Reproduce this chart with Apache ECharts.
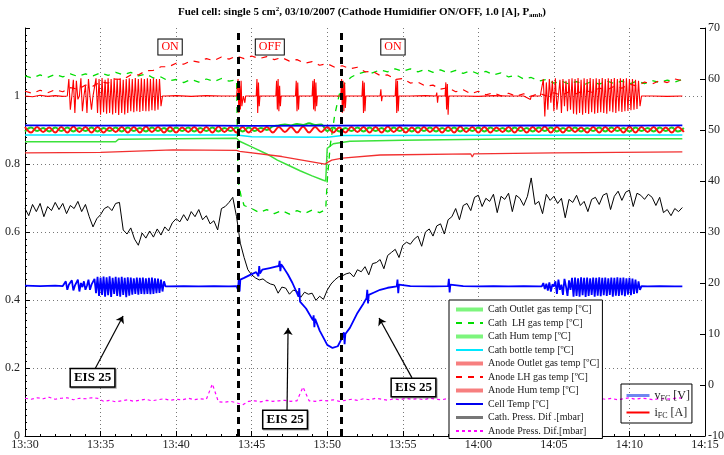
<!DOCTYPE html>
<html>
<head>
<meta charset="utf-8">
<script src="https://cdn.jsdelivr.net/npm/echarts@6/dist/echarts.min.js"></script>
<style>
  html, body { margin: 0; padding: 0; background: #fff; }
  #chart { width: 724px; height: 455px; }
</style>
</head>
<body>
<div id="chart"></div>
<script>
// ---- Time axis: minutes after 13:30 ----
const xTickLabels = ['13:30', '13:35', '13:40', '13:45', '13:50', '13:55', '14:00', '14:05', '14:10', '14:15'];
const leftTickLabels = ['0', '0.2', '0.4', '0.6', '0.8', '1', ''];
const rightTickLabels = ['-10', '0', '10', '20', '30', '40', '50', '60', '70'];

// Humidifier switch instants (min)
const switchTimes = [14.1, 20.9];

// ---- Temperatures [ºC] and pressures [mbar] (right axis) ----
const cathOutletTemp = [[0, 47.7], [6.0, 47.7], [6.2, 48.2], [10, 48.3], [14.0, 48.4], [14.2, 47.8], [15, 46.7], [16, 45.3],
  [16.7, 44.1], [17.5, 43.0], [18.2, 42.0], [19, 41.0], [19.7, 40.2], [19.9, 40.0], [20.0, 46.4], [20.4, 47.3], [21.5, 47.8],
  [25, 48.0], [33, 48.3], [43.5, 48.3]];

const cathLHTemp = [[0, 60.6], [0.5, 60.2], [1, 60.8], [1.5, 60.3], [2, 60.9], [2.5, 60.4], [3, 61.0], [3.5, 60.5], [4, 61.0],
  [4.5, 60.6], [5, 61.2], [5.5, 60.7], [6, 61.3], [6.5, 60.8], [7, 61.3], [7.5, 60.6], [8, 61.0], [8.5, 60.2], [9, 60.4],
  [9.5, 59.6], [10, 59.9], [10.5, 59.3], [11, 59.9], [11.5, 59.4], [12, 60.0], [12.5, 59.5], [13, 60.1], [13.5, 59.6],
  [14.0, 59.8], [14.1, 40.0], [14.3, 37.0], [14.5, 35.2], [15, 34.6], [15.5, 33.8], [16, 34.4], [16.5, 33.6], [17, 34.2],
  [17.5, 33.5], [18, 34.2], [18.5, 33.6], [19, 34.3], [19.5, 33.8], [19.9, 34.4], [20.0, 40.0], [20.2, 47.0], [20.5, 53.0],
  [20.8, 57.0], [21.2, 59.4], [21.6, 60.4], [22, 61.0], [22.5, 61.4], [23, 61.2], [23.5, 61.8], [24, 61.4], [24.5, 62.0],
  [25, 61.5], [25.5, 62.0], [26, 61.4], [26.5, 61.9], [27, 61.3], [27.5, 61.8], [28, 61.2], [28.5, 61.7], [29, 61.1],
  [29.5, 61.6], [30, 61.0], [30.5, 61.5], [31, 60.8], [31.5, 61.2], [32, 60.4], [32.5, 60.8], [33, 60.0], [33.5, 60.3],
  [34, 59.6], [34.5, 59.9], [35, 59.2], [35.5, 59.6], [36, 59.0], [36.5, 59.5], [37, 58.9], [37.5, 59.5], [38, 59.0],
  [38.5, 59.6], [39, 59.1], [39.5, 59.6], [40, 59.0], [40.5, 59.6], [41, 59.1], [41.5, 59.7], [42, 59.3], [42.5, 59.8],
  [43, 59.4], [43.5, 59.9]];

// humidifier temperatures are logged every 0.4 min
const humStep = 0.4;
const cathHumValues = [
  49.7, 50.5, 49.8, 50.4, 49.7, 50.5, 49.8, 50.5, 49.7, 50.4,
  49.8, 50.5, 49.7, 50.4, 49.8, 50.5, 49.7, 50.5, 49.8, 50.4,
  49.7, 50.5, 49.8, 50.4, 49.7, 50.5, 49.8, 50.5, 49.7, 50.4,
  49.8, 50.5, 49.7, 50.4, 49.8, 50.5, 49.7, 50.5, 49.8, 50.4,
  50.0, 50.7, 50.9, 51.1, 50.9, 51.2, 51.0, 51.3, 51.0, 51.1,
  49.8, 50.5, 49.7, 50.4, 49.8, 50.5, 49.7, 50.5, 49.8, 50.4,
  49.7, 50.5, 49.8, 50.4, 49.7, 50.5, 49.8, 50.5, 49.7, 50.4,
  49.8, 50.5, 49.7, 50.4, 49.8, 50.5, 49.7, 50.5, 49.8, 50.4,
  49.7, 50.5, 49.8, 50.4, 49.7, 50.5, 49.8, 50.5, 49.7, 50.4,
  49.8, 50.5, 49.7, 50.4, 49.8, 50.5, 49.7, 50.5, 49.8, 50.4,
  49.7, 50.5, 49.8, 50.4, 49.7, 50.5, 49.8, 50.5, 49.7, 50.4];
const anodeHumValues = [
  50.6, 49.5, 50.6, 49.6, 50.5, 49.5, 50.6, 49.5, 50.7, 49.6,
  50.6, 49.5, 50.6, 49.5, 50.5, 49.6, 50.6, 49.5, 50.6, 49.5,
  50.7, 49.6, 50.6, 49.5, 50.6, 49.5, 50.5, 49.6, 50.6, 49.5,
  50.6, 49.5, 50.7, 49.6, 50.6, 49.5, 50.6, 49.5, 50.5, 49.6,
  50.6, 49.5, 50.6, 49.6, 50.6, 49.5, 50.7, 49.5, 50.6, 49.6,
  50.6, 49.5, 50.5, 49.5, 50.6, 49.6, 50.6, 49.5, 50.6, 49.5,
  50.7, 49.6, 50.6, 49.5, 50.5, 49.5, 50.6, 49.6, 50.6, 49.5,
  50.6, 49.5, 50.7, 49.6, 50.6, 49.5, 50.6, 49.5, 50.5, 49.6,
  50.6, 49.5, 50.6, 49.5, 50.6, 49.6, 50.7, 49.5, 50.6, 49.5,
  50.6, 49.6, 50.5, 49.5, 50.6, 49.5, 50.6, 49.6, 50.6, 49.5,
  50.7, 49.5, 50.6, 49.6, 50.6, 49.5, 50.5, 49.5, 50.6, 49.6];

const cathBottleTemp = [[0, 49.0], [14.0, 49.0], [15, 48.7], [20, 48.6], [21, 48.9], [43.5, 49.0]];

const anodeOutletTemp = [[0, 45.5], [5, 45.6], [9.8, 46.1], [14.0, 46.0], [14.2, 45.8], [17, 44.8], [19.85, 43.3],
  [20.0, 43.6], [20.3, 44.1], [21, 44.5], [23.5, 45.1], [29.5, 45.3], [29.6, 44.7], [29.7, 45.3], [35, 45.5], [43.5, 45.7]];

const anodeLHTemp = [[0, 57.6], [0.5, 57.2], [1, 57.8], [1.5, 57.3], [2, 57.9], [2.5, 57.5], [3, 58.3], [3.5, 58.0],
  [4, 58.8], [4.5, 58.6], [5, 59.4], [5.5, 59.2], [6, 60.0], [6.5, 59.9], [7, 60.8], [7.5, 60.8], [8, 61.6], [8.5, 61.7],
  [9, 62.4], [9.5, 62.4], [10, 63.1], [10.5, 62.9], [11, 63.6], [11.5, 63.3], [12, 64.0], [12.5, 63.6], [13, 64.3],
  [13.5, 63.9], [14, 64.5], [14.5, 64.0], [15, 64.5], [15.5, 64.0], [16, 64.4], [16.5, 63.8], [17, 64.2], [17.5, 63.5],
  [18, 63.8], [18.5, 63.1], [19, 63.4], [19.5, 62.7], [20, 63.0], [20.5, 62.3], [21, 62.6], [21.5, 62.0], [22, 62.3],
  [22.5, 61.4], [23, 61.5], [23.5, 60.7], [24, 60.8], [24.5, 59.9], [25, 60.1], [25.5, 59.2], [26, 59.4], [26.5, 58.6],
  [27, 58.8], [27.5, 58.0], [28, 58.3], [28.5, 57.5], [29, 57.9], [29.5, 57.1], [30, 57.6], [30.5, 56.9], [31, 57.3],
  [31.5, 56.7], [32, 57.2], [32.5, 56.6], [33, 57.1], [33.5, 56.6], [34, 57.2], [34.5, 56.7], [35, 57.3], [35.5, 56.8],
  [36, 57.5], [36.5, 57.1], [37, 57.8], [37.5, 57.4], [38, 58.2], [38.5, 57.8], [39, 58.6], [39.5, 58.2], [40, 59.0],
  [40.5, 58.6], [41, 59.4], [41.5, 59.0], [42, 59.7], [42.5, 59.3], [43, 60.0], [43.5, 59.7]];

const cellTemp = [[0, 50.9], [5, 50.85], [10, 50.9], [15, 50.8], [20, 50.85], [25, 50.9], [30, 50.85], [35, 50.9],
  [40, 50.85], [43.5, 50.9]];

// cathode pressure difference, logged every 0.25 min
const cathPressStep = 0.25;
const cathPressValues = [
  34.6, 33.2, 35.4, 34.0, 35.6, 33.0, 35.0, 34.2, 35.8, 34.4, 35.6, 33.6, 35.2, 34.6, 36.0, 34.0,
  35.4, 33.0, 31.0, 32.6, 33.4, 34.6, 35.0, 34.2, 35.6, 35.8, 30.4, 29.6, 30.8, 28.6, 27.4, 29.8,
  28.8, 30.2, 29.0, 30.6, 29.4, 31.0, 30.2, 31.8, 32.6, 32.0, 33.4, 32.2, 34.0, 33.0, 34.4, 32.4,
  33.2, 31.6, 32.2, 30.4, 34.6, 35.0, 35.8, 36.8, 33.0, 27.8, 25.0, 22.6, 21.6, 21.0, 20.6, 20.8,
  20.2, 19.8, 19.6, 18.0, 19.2, 19.0, 17.8, 18.6, 18.4, 17.2, 18.2, 17.8, 18.0, 16.6, 17.4, 16.8,
  18.6, 19.8, 20.6, 21.2, 21.4, 21.8, 22.0, 21.2, 22.6, 22.2, 23.2, 21.6, 23.8, 24.0, 24.6, 22.8,
  25.4, 26.0, 26.6, 25.0, 27.4, 28.0, 27.6, 28.6, 29.2, 27.2, 30.0, 30.6, 29.2, 31.2, 31.6, 29.6,
  32.4, 33.0, 34.6, 32.4, 35.2, 35.6, 34.2, 36.8, 37.2, 35.0, 36.6, 36.0, 37.4, 33.8, 37.0, 36.4,
  37.6, 34.0, 37.2, 36.6, 35.2, 37.0, 40.6, 35.4, 36.0, 33.6, 37.4, 36.2, 37.0, 35.6, 36.6, 32.8,
  36.4, 35.8, 37.2, 35.2, 36.0, 34.0, 36.4, 36.8, 35.4, 37.2, 37.6, 34.4, 37.0, 38.0, 36.2, 37.8,
  38.2, 35.0, 37.6, 37.2, 36.4, 37.4, 36.8, 35.2, 36.8, 33.8, 34.4, 33.2, 34.6, 34.0, 34.8];

// anode pressure difference, logged every 0.4 min
const anodePressStep = 0.4;
const anodePressValues = [
  -2.6, -2.8, -2.5, -2.7, -2.4, -2.8, -2.6, -2.5, -2.9, -2.6, -2.7, -2.5, -2.6,
  -3.2, -3.0, -3.3, -3.1, -2.9, -3.2, -3.0, -2.8, -3.1, -2.9, -2.7, -3.0, -2.8, -2.9, -2.6, -2.9, -2.7, -2.8,
  0.2,
  -3.3, -3.4, -3.2, -3.5, -3.9, -3.2, -3.1, -3.3, -3.0, -3.2, -3.1, -3.0, -3.2, -3.1,
  -0.4,
  -3.1, -3.2, -3.0, -3.1, -2.9, -3.2, -3.0, -2.8, -3.0, -2.7, -2.9, -2.6, -2.8, -3.0, -2.7, -2.9,
  -2.6, -2.8, -2.7, -2.9, -2.6, -2.8, -2.9, -2.6, -2.8, -2.7, -2.5, -2.8, -2.6, -2.9, -2.7, -2.6,
  -2.8, -2.5, -2.7, -2.9, -2.6, -2.8, -2.7, -2.5, -2.8, -2.6, -2.9, -2.7, -2.6, -2.8, -2.5, -2.7,
  -2.6, -2.8, -2.6, -2.9, -2.7, -2.5, -2.8, -2.6, -2.7, -2.9, -2.6, -2.8, -2.7, -2.5, -2.7];

// ---- Cell voltage v_FC [V] (left axis) ----
const vfcSteady = [[0, 0.442], [1, 0.441], [2, 0.442], [2.5, 0.441],
  [9.5, 0.44], [10.5, 0.441], [11.5, 0.44], [12.5, 0.441], [13.5, 0.44], [14.0, 0.441], [14.1, 0.43], [14.15, 0.465],
  [14.2, 0.425], [14.25, 0.46], [14.5, 0.465], [14.9, 0.474], [15.3, 0.482], [15.45, 0.47], [15.5, 0.5], [15.55, 0.478],
  [15.7, 0.489], [16.2, 0.494], [16.6, 0.498], [16.8, 0.5], [16.85, 0.515], [16.9, 0.485], [16.95, 0.505], [17.1, 0.496],
  [17.4, 0.475], [17.7, 0.45], [18.0, 0.42], [18.1, 0.41], [18.15, 0.435], [18.2, 0.395], [18.3, 0.4], [18.6, 0.375],
  [19.06, 0.34], [19.1, 0.355], [19.15, 0.32], [19.2, 0.345], [19.5, 0.31], [19.8, 0.285], [20.0, 0.268], [20.35, 0.259],
  [20.7, 0.264], [21.0, 0.29], [21.1, 0.305], [21.15, 0.27], [21.2, 0.3], [21.5, 0.318], [22.0, 0.362], [22.4, 0.39],
  [22.6, 0.405], [22.65, 0.43], [22.7, 0.39], [22.75, 0.415], [23.1, 0.422], [23.5, 0.43], [24.0, 0.436], [24.6, 0.44],
  [24.65, 0.46], [24.7, 0.42], [24.75, 0.445], [25.5, 0.441], [27, 0.44], [28.0, 0.441], [28.05, 0.462], [28.1, 0.422],
  [28.15, 0.445], [29, 0.441], [30, 0.44], [31, 0.441], [32, 0.44], [33, 0.441], [34.0, 0.44],
  [41.2, 0.44], [42, 0.441], [43, 0.44], [43.5, 0.44]];
// EIS perturbation bursts, logged every 0.1 min
const vfcBurstStep = 0.1;
const vfcBurst1Start = 2.6;
const vfcBurst1 = [0.441, 0.455, 0.43, 0.445, 0.44, 0.458, 0.428, 0.442, 0.44, 0.46, 0.425, 0.45, 0.438, 0.455, 0.43,
  0.442, 0.46, 0.43, 0.445, 0.442, 0.462, 0.42, 0.468, 0.412, 0.466, 0.415, 0.469, 0.41, 0.467, 0.414, 0.47, 0.409,
  0.465, 0.418, 0.468, 0.412, 0.466, 0.41, 0.468, 0.415, 0.465, 0.408, 0.467, 0.413, 0.466, 0.416, 0.464, 0.418, 0.466,
  0.416, 0.465, 0.418, 0.466, 0.417, 0.464, 0.418, 0.465, 0.417, 0.466, 0.418, 0.464, 0.42, 0.463, 0.421, 0.46, 0.425,
  0.455, 0.44];
const vfcBurst2Start = 34.2;
const vfcBurst2 = [0.44, 0.45, 0.432, 0.448, 0.428, 0.452, 0.425, 0.446, 0.44, 0.455, 0.418, 0.46, 0.43, 0.445, 0.415,
  0.462, 0.44, 0.412, 0.458, 0.43, 0.465, 0.41, 0.466, 0.412, 0.464, 0.41, 0.467, 0.414, 0.465, 0.409, 0.466, 0.412,
  0.464, 0.415, 0.466, 0.41, 0.465, 0.413, 0.467, 0.411, 0.465, 0.414, 0.466, 0.412, 0.464, 0.415, 0.466, 0.41, 0.465,
  0.413, 0.467, 0.412, 0.465, 0.414, 0.466, 0.411, 0.464, 0.416, 0.465, 0.414, 0.463, 0.418, 0.46, 0.42, 0.455, 0.43,
  0.441];

// ---- Cell current i_FC [A] (left axis) ----
const ifcSteady = [[0, 1.0], [0.5, 0.998], [1, 1.002], [1.5, 0.999], [2, 1.001], [2.5, 0.999],
  [9.3, 1.0], [10, 1.001], [11, 0.999], [12, 1.001], [13, 1.0], [14.0, 1.0],
  [14.05, 1.0], [14.1, 1.05], [14.15, 0.95], [14.2, 1.03], [14.25, 0.96], [14.3, 1.045], [14.35, 0.97], [14.45, 1.0],
  [14.55, 0.98], [14.6, 1.0], [15.3, 1.0], [15.35, 1.05], [15.4, 0.95], [15.45, 1.04], [15.5, 0.97], [15.55, 1.0],
  [16.6, 1.0], [16.65, 1.045], [16.7, 0.96], [16.75, 1.05], [16.8, 0.955], [16.85, 1.03], [16.9, 0.97], [16.95, 1.0],
  [17.9, 1.0], [17.95, 1.045], [18.0, 0.955], [18.05, 1.04], [18.1, 0.96], [18.15, 1.0],
  [19.0, 1.0], [19.05, 1.045], [19.1, 0.96], [19.15, 1.05], [19.2, 0.955], [19.25, 1.04], [19.3, 0.97], [19.35, 1.0],
  [20.9, 1.0], [20.95, 1.05], [21.0, 0.95], [21.05, 1.045], [21.1, 0.955], [21.15, 1.04], [21.2, 0.965], [21.25, 1.0],
  [22.3, 1.0], [22.35, 1.045], [22.4, 0.95], [22.45, 1.04], [22.5, 0.955], [22.55, 1.0],
  [23.5, 1.0], [23.55, 1.02], [23.6, 0.985], [23.65, 1.0],
  [24.5, 1.0], [24.55, 1.05], [24.6, 0.95], [24.65, 1.045], [24.7, 0.955], [24.75, 1.0],
  [25.5, 1.0], [26.5, 1.001], [27.2, 1.0], [27.25, 1.01], [27.3, 0.98], [27.35, 1.0],
  [27.8, 1.0], [27.85, 1.04], [27.9, 0.96], [27.95, 1.035], [28.0, 0.945], [28.05, 1.0],
  [29, 1.0], [30, 0.999], [31, 1.001], [32, 1.0], [33, 1.0], [33.45, 0.99], [33.5, 1.0], [34.1, 1.0],
  [41.5, 1.0], [42.5, 0.999], [43.5, 1.0]];
const ifcBurstStep = 0.1;
const ifcBurst1Start = 2.8;
const ifcBurst1 = [1.0, 1.05, 0.96, 1.0, 1.048, 0.95, 1.045, 0.99, 1.0, 1.052, 0.955, 1.0, 1.03, 0.95, 1.05, 1.0, 0.96,
  1.0, 1.0, 1.052, 0.95, 1.05, 0.945, 1.053, 0.952, 1.048, 0.948, 1.052, 0.95, 1.05, 0.946, 1.053, 0.95, 1.05, 0.944,
  1.052, 0.95, 1.048, 0.946, 1.05, 0.95, 1.052, 0.955, 1.05, 0.952, 1.053, 0.955, 1.05, 0.953, 1.052, 0.956, 1.05,
  0.955, 1.052, 0.955, 1.05, 0.958, 1.052, 0.957, 1.05, 0.96, 1.05, 0.97, 1.0];
const ifcBurst2Start = 34.2;
const ifcBurst2 = [1.0, 1.05, 0.94, 1.04, 0.96, 1.05, 0.98, 1.045, 0.955, 1.052, 0.96, 1.0, 1.048, 0.95, 1.05, 0.97,
  1.045, 0.955, 1.05, 0.96, 1.052, 0.948, 1.05, 0.946, 1.053, 0.95, 1.048, 0.945, 1.052, 0.95, 1.05, 0.947, 1.053,
  0.952, 1.05, 0.948, 1.052, 0.95, 1.05, 0.952, 1.053, 0.95, 1.05, 0.948, 1.052, 0.955, 1.05, 0.952, 1.053, 0.95,
  1.05, 0.955, 1.052, 0.953, 1.05, 0.955, 1.052, 0.956, 1.05, 0.958, 1.05, 0.96, 1.048, 0.962, 1.045, 0.97, 1.0];

// ---- Annotations (time in min, left-axis value) ----
const stateLabels = [{ name: 'ON', t: 9.6, v: 1.144 }, { name: 'OFF', t: 16.2, v: 1.144 }, { name: 'ON', t: 24.35, v: 1.144 }];
const eisLabels = [{ name: 'EIS 25', t: 4.47, v: 0.171 }, { name: 'EIS 25', t: 17.21, v: 0.0485 }, { name: 'EIS 25', t: 25.71, v: 0.143 }];
const eisArrows = [[[4.63, 0.197], [6.49, 0.353]], [[17.34, 0.0765], [17.41, 0.318]], [[25.61, 0.171], [23.43, 0.347]]];

// ---- helpers ----
const FONT = '"Liberation Serif", "Times New Roman", serif';
function sampled(start, step, values) {
  return values.map((v, i) => [+(start + i * step).toFixed(3), v]);
}
function merged() {
  return [].concat(...arguments).sort((a, b) => a[0] - b[0]);
}
function line(name, data, yAxisIndex, color, width, type, extra) {
  return Object.assign({
    name, type: 'line', data, yAxisIndex,
    symbol: 'none', showSymbol: false, silent: true, animation: false,
    lineStyle: { color, width, type: type || 'solid' },
    itemStyle: { color },
    z: 2
  }, extra || {});
}

const series = [
  line('Cath Outlet gas temp [ºC]', cathOutletTemp, 1, '#3be23b', 1.5),
  line('Cath  LH gas temp [ºC]', cathLHTemp, 1, '#00dd00', 1.3, [6, 6]),
  line('Cath Hum temp [ºC]', sampled(0, humStep, cathHumValues), 1, '#19d419', 2, 'solid', { smooth: 0.4 }),
  line('Cath bottle temp [ºC]', cathBottleTemp, 1, '#00e8ff', 1.5),
  line('Anode Outlet gas temp [ºC]', anodeOutletTemp, 1, '#f23030', 1.3),
  line('Anode LH gas temp [ºC]', anodeLHTemp, 1, '#ff0000', 1.2, [6, 6]),
  line('Anode Hum temp [ºC]', sampled(0, humStep, anodeHumValues), 1, '#ff1010', 2, 'solid', { smooth: 0.4 }),
  line('Cell Temp [ºC]', cellTemp, 1, '#0000ee', 1.6),
  line('Cath. Press. Dif .[mbar]', sampled(0, cathPressStep, cathPressValues), 1, '#000000', 1),
  line('Anode Press. Dif.[mbar]', sampled(0, anodePressStep, anodePressValues), 1, '#ff00ff', 1.2, [3, 3]),
  line('vFC', merged(vfcSteady, sampled(vfcBurst1Start, vfcBurstStep, vfcBurst1), sampled(vfcBurst2Start, vfcBurstStep, vfcBurst2)),
    0, '#0000ff', 1.8),
  line('iFC', merged(ifcSteady, sampled(ifcBurst1Start, ifcBurstStep, ifcBurst1), sampled(ifcBurst2Start, ifcBurstStep, ifcBurst2)),
    0, '#ff0000', 1.1),
  {
    name: 'notes', type: 'line', data: [[0, -1]], yAxisIndex: 0, silent: true, animation: false, z: 5,
    symbol: 'none', lineStyle: { width: 0 },
    markLine: {
      silent: true, animation: false, symbol: ['none', 'none'], label: { show: false },
      data: switchTimes.map(t => ({ xAxis: t, lineStyle: { color: '#000', width: 3, type: [7, 5] } }))
        .concat(eisArrows.map(a => [
          { coord: a[0], symbol: 'none', lineStyle: { color: '#000', width: 1.2, type: 'solid' } },
          { coord: a[1], symbol: 'arrow', symbolSize: 7 }
        ]))
    },
    markPoint: {
      silent: true, animation: false, symbol: 'rect', symbolSize: 1,
      itemStyle: { color: 'rgba(255,255,255,0)' },
      data: stateLabels.map(s => ({
        name: s.name, coord: [s.t, s.v],
        label: {
          show: true, position: 'inside', formatter: '{b}', color: '#ff0000', fontFamily: FONT, fontSize: 12,
          backgroundColor: '#fff', borderColor: '#000', borderWidth: 1, padding: [2, 3, 1, 3]
        }
      })).concat(eisLabels.map(s => ({
        name: s.name, coord: [s.t, s.v],
        label: {
          show: true, position: 'inside', formatter: '{b}', color: '#000', fontFamily: FONT, fontSize: 13,
          fontWeight: 'bold', backgroundColor: '#fff', borderColor: '#000', borderWidth: 1.5, padding: [3, 3, 1, 3],
          shadowColor: 'rgba(0,0,0,0.35)', shadowOffsetX: 1, shadowOffsetY: 1
        }
      })))
    }
  }
];

const thickLegend = (color) => ({ lineStyle: { color, width: 4 } });

const option = {
  backgroundColor: '#fff',
  animation: false,
  title: {
    text: '{b|Fuel cell: single 5 cm}{sup|2}{b|, 03/10/2007 (Cathode Humidifier ON/OFF, 1.0 [A], P}{sub|amb}{b|)}',
    left: 'center', top: 1,
    textStyle: {
      rich: {
        b: { fontFamily: FONT, fontSize: 11, fontWeight: 'bold', color: '#000' },
        sup: { fontFamily: FONT, fontSize: 7, fontWeight: 'bold', color: '#000', padding: [0, 0, 6, 0] },
        sub: { fontFamily: FONT, fontSize: 7, fontWeight: 'bold', color: '#000', padding: [6, 0, 0, 0] }
      }
    }
  },
  grid: { left: 25, right: 19, top: 28, bottom: 19, containLabel: false, outerBoundsMode: 'none' },
  xAxis: {
    type: 'value', min: 0, max: 45, interval: 5,
    name: 'Time', nameLocation: 'middle', nameGap: 3,
    nameTextStyle: { fontFamily: FONT, fontSize: 12, color: '#222', verticalAlign: 'top', padding: [0, 16, 0, 0] },
    axisLine: { show: true, onZero: false, lineStyle: { color: '#000', width: 1 } },
    axisTick: { show: true, inside: true, length: 5, lineStyle: { color: '#000' } },
    minorTick: { show: true, splitNumber: 5, length: 2, lineStyle: { color: '#000' } },
    axisLabel: {
      fontFamily: FONT, fontSize: 12, color: '#222', margin: 3,
      formatter: v => xTickLabels[Math.round(v / 5)]
    },
    splitLine: { show: true, showMinLine: false, showMaxLine: false, lineStyle: { color: '#777', type: [1, 3], width: 1 } }
  },
  yAxis: [
    {
      type: 'value', min: 0, max: 1.2, interval: 0.2, position: 'left',
      axisLine: { show: true, onZero: false, lineStyle: { color: '#000', width: 1 } },
      axisTick: { show: true, inside: true, length: 5, lineStyle: { color: '#000' } },
      minorTick: { show: true, splitNumber: 10, length: 2, lineStyle: { color: '#000' } },
      axisLabel: {
        fontFamily: FONT, fontSize: 12, color: '#222', margin: 5,
        formatter: v => leftTickLabels[Math.round(v / 0.2)]
      },
      splitLine: { show: true, showMinLine: false, showMaxLine: false, lineStyle: { color: '#777', type: [1, 3], width: 1 } }
    },
    {
      type: 'value', min: -10, max: 70, interval: 10, position: 'right',
      axisLine: { show: true, onZero: false, lineStyle: { color: '#000', width: 1 } },
      axisTick: { show: true, inside: true, length: 5, lineStyle: { color: '#000' } },
      axisLabel: {
        fontFamily: FONT, fontSize: 12, color: '#222', margin: 3,
        formatter: v => rightTickLabels[Math.round((v + 10) / 10)]
      },
      splitLine: { show: false }
    }
  ],
  legend: [
    {
      orient: 'vertical', left: 449, top: 300,
      backgroundColor: '#fff', borderColor: '#000', borderWidth: 1, borderRadius: 0,
      padding: [3, 3, 1, 5], itemGap: 0.5, itemWidth: 27, itemHeight: 10,
      selectedMode: false,
      itemStyle: { opacity: 0 },
      textStyle: { fontFamily: FONT, fontSize: 10, color: '#222', lineHeight: 13 },
      data: [
        Object.assign({ name: 'Cath Outlet gas temp [ºC]' }, thickLegend('#7df57d')),
        { name: 'Cath  LH gas temp [ºC]' },
        Object.assign({ name: 'Cath Hum temp [ºC]' }, thickLegend('#7df57d')),
        { name: 'Cath bottle temp [ºC]' },
        Object.assign({ name: 'Anode Outlet gas temp [ºC]' }, thickLegend('#f77f7f')),
        { name: 'Anode LH gas temp [ºC]' },
        Object.assign({ name: 'Anode Hum temp [ºC]' }, thickLegend('#f77f7f')),
        { name: 'Cell Temp [ºC]' },
        { name: 'Cath. Press. Dif .[mbar]', lineStyle: { color: '#777', width: 3 } },
        { name: 'Anode Press. Dif.[mbar]' }
      ]
    },
    {
      orient: 'vertical', left: 621, top: 384,
      backgroundColor: 'transparent', borderColor: '#000', borderWidth: 1, borderRadius: 0,
      padding: [4, 2, 3, 4], itemGap: 2, itemWidth: 23, itemHeight: 10,
      selectedMode: false,
      itemStyle: { opacity: 0 },
      formatter: name => name === 'vFC' ? '{m|v}{s|FC}{m| [V]}' : '{m|i}{s|FC}{m| [A]}',
      textStyle: {
        fontFamily: FONT, fontSize: 12, color: '#222',
        rich: {
          m: { fontFamily: FONT, fontSize: 12, color: '#222', lineHeight: 18 },
          s: { fontFamily: FONT, fontSize: 8, color: '#222', lineHeight: 18, padding: [7, 0, 0, 0] }
        }
      },
      data: [
        { name: 'vFC', lineStyle: { color: '#6f86f0', width: 3 } },
        { name: 'iFC' }
      ]
    }
  ],
  series
};

const chart = echarts.init(document.getElementById('chart'), null, { renderer: 'canvas' });
chart.setOption(option);
</script>
</body>
</html>
